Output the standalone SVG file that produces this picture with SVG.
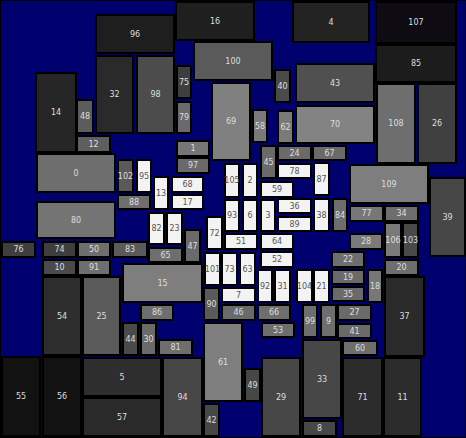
<svg xmlns="http://www.w3.org/2000/svg" width="466" height="438" viewBox="0 0 466 438">
<style>
rect{stroke:#000;stroke-width:2}
text{font-family:"DejaVu Sans","Liberation Sans",sans-serif;font-size:8px;fill:#dedede;text-anchor:middle;dominant-baseline:central}
.w rect{fill:#f3f3f3}
.w text{fill:#555}
</style>
<rect x="0" y="0" width="466" height="438" fill="#00006e" stroke="none"/>
<g id="n14"><rect x="36" y="73" width="40" height="79" fill="#262626"/><text x="56" y="112.5">14</text></g>
<g id="n48"><rect x="77" y="100" width="16" height="33" fill="#5c5c5c"/><text x="85" y="116.5">48</text></g>
<g id="n12"><rect x="77" y="136" width="33" height="16" fill="#5e5e5e"/><text x="93.5" y="144">12</text></g>
<g id="n32"><rect x="96" y="56" width="37" height="77" fill="#2a2a2a"/><text x="114.5" y="94.5">32</text></g>
<g id="n96"><rect x="96" y="15" width="78" height="38" fill="#1e1e1e"/><text x="135" y="34">96</text></g>
<g id="n98"><rect x="137" y="56" width="37" height="77" fill="#4c4c4c"/><text x="155.5" y="94.5">98</text></g>
<g id="n75"><rect x="177" y="66" width="14" height="32" fill="#3e3e3e"/><text x="184" y="82">75</text></g>
<g id="n79"><rect x="177" y="102" width="14" height="31" fill="#6a6a6a"/><text x="184" y="117.5">79</text></g>
<g id="n16"><rect x="176" y="2" width="78" height="38" fill="#1f1f1f"/><text x="215" y="21">16</text></g>
<g id="n100"><rect x="194" y="42" width="78" height="38" fill="#5a5a5a"/><text x="233" y="61">100</text></g>
<g id="n69"><rect x="212" y="83" width="38" height="77" fill="#808080"/><text x="231" y="121.5">69</text></g>
<g id="n1"><rect x="177" y="141" width="32" height="15" fill="#767676"/><text x="193" y="148.5">1</text></g>
<g id="n97"><rect x="177" y="158" width="32" height="15" fill="#6a6a6a"/><text x="193" y="165.5">97</text></g>
<g id="n40"><rect x="275" y="70" width="15" height="32" fill="#4a4a4a"/><text x="282.5" y="86">40</text></g>
<g id="n4"><rect x="293" y="2" width="76" height="40" fill="#232323"/><text x="331" y="22">4</text></g>
<g id="n107"><rect x="376" y="2" width="80" height="41" fill="#0e0c12"/><text x="416" y="22.5">107</text></g>
<g id="n85"><rect x="376" y="45" width="80" height="37" fill="#1c1c1c"/><text x="416" y="63.5">85</text></g>
<g id="n43"><rect x="296" y="64" width="78" height="38" fill="#505050"/><text x="335" y="83">43</text></g>
<g id="n70"><rect x="296" y="106" width="78" height="37" fill="#838383"/><text x="335" y="124.5">70</text></g>
<g id="n58"><rect x="253" y="110" width="14" height="32" fill="#7a7a7a"/><text x="260" y="126">58</text></g>
<g id="n62"><rect x="278" y="111" width="15" height="32" fill="#7a7a7a"/><text x="285.5" y="127">62</text></g>
<g id="n45"><rect x="261" y="146" width="15" height="32" fill="#6a6a6a"/><text x="268.5" y="162">45</text></g>
<g id="n24"><rect x="278" y="146" width="33" height="14" fill="#6a6a6a"/><text x="294.5" y="153">24</text></g>
<g id="n67"><rect x="313" y="146" width="33" height="14" fill="#6a6a6a"/><text x="329.5" y="153">67</text></g>
<g id="n108"><rect x="377" y="84" width="38" height="79" fill="#6e6e6e"/><text x="396" y="123.5">108</text></g>
<g id="n26"><rect x="418" y="84" width="38" height="79" fill="#404040"/><text x="437" y="123.5">26</text></g>
<g id="n109"><rect x="350" y="165" width="78" height="38" fill="#7e7e7e"/><text x="389" y="184">109</text></g>
<g id="n39"><rect x="430" y="178" width="35" height="78" fill="#474747"/><text x="447.5" y="217">39</text></g>
<g id="n77"><rect x="350" y="206" width="33" height="15" fill="#777777"/><text x="366.5" y="213.5">77</text></g>
<g id="n34"><rect x="385" y="206" width="33" height="15" fill="#6e6e6e"/><text x="401.5" y="213.5">34</text></g>
<g id="n106"><rect x="385" y="223" width="16" height="34" fill="#7a7a7a"/><text x="393" y="240">106</text></g>
<g id="n103"><rect x="403" y="223" width="15" height="34" fill="#494949"/><text x="410.5" y="240">103</text></g>
<g id="n28"><rect x="350" y="234" width="32" height="15" fill="#7a7a7a"/><text x="366" y="241.5">28</text></g>
<g id="n20"><rect x="385" y="260" width="33" height="15" fill="#6e6e6e"/><text x="401.5" y="267.5">20</text></g>
<g id="n22"><rect x="332" y="252" width="32" height="15" fill="#6e6e6e"/><text x="348" y="259.5">22</text></g>
<g id="n19"><rect x="332" y="270" width="32" height="14" fill="#6a6a6a"/><text x="348" y="277">19</text></g>
<g id="n18"><rect x="368" y="270" width="14" height="32" fill="#777777"/><text x="375" y="286">18</text></g>
<g id="n35"><rect x="332" y="287" width="32" height="14" fill="#6a6a6a"/><text x="348" y="294">35</text></g>
<g id="n37"><rect x="385" y="277" width="39" height="79" fill="#2a2a2a"/><text x="404.5" y="316.5">37</text></g>
<g id="n27"><rect x="338" y="305" width="33" height="15" fill="#6a6a6a"/><text x="354.5" y="312.5">27</text></g>
<g id="n41"><rect x="338" y="324" width="33" height="14" fill="#6a6a6a"/><text x="354.5" y="331">41</text></g>
<g id="n60"><rect x="343" y="341" width="34" height="14" fill="#6e6e6e"/><text x="360" y="348">60</text></g>
<g id="n71"><rect x="343" y="358" width="39" height="78" fill="#2c2c2c"/><text x="362.5" y="397">71</text></g>
<g id="n11"><rect x="384" y="358" width="37" height="78" fill="#2c2c2c"/><text x="402.5" y="397">11</text></g>
<g id="n33"><rect x="303" y="340" width="38" height="78" fill="#474747"/><text x="322" y="379">33</text></g>
<g id="n8"><rect x="303" y="421" width="33" height="15" fill="#474747"/><text x="319.5" y="428.5">8</text></g>
<g id="n99"><rect x="303" y="305" width="14" height="32" fill="#6e6e6e"/><text x="310" y="321">99</text></g>
<g id="n9"><rect x="321" y="305" width="15" height="32" fill="#6e6e6e"/><text x="328.5" y="321">9</text></g>
<g id="n29"><rect x="262" y="358" width="38" height="78" fill="#474747"/><text x="281" y="397">29</text></g>
<g id="n49"><rect x="245" y="369" width="15" height="32" fill="#474747"/><text x="252.5" y="385">49</text></g>
<g id="n53"><rect x="262" y="323" width="32" height="14" fill="#6e6e6e"/><text x="278" y="330">53</text></g>
<g id="n46"><rect x="222" y="305" width="33" height="15" fill="#6a6a6a"/><text x="238.5" y="312.5">46</text></g>
<g id="n66"><rect x="258" y="305" width="32" height="15" fill="#6e6e6e"/><text x="274" y="312.5">66</text></g>
<g id="n7" class="w"><rect x="222" y="288" width="33" height="14"/><text x="238.5" y="295">7</text></g>
<g id="n92" class="w"><rect x="258" y="270" width="14" height="32"/><text x="265" y="286">92</text></g>
<g id="n31" class="w"><rect x="275" y="270" width="15" height="32"/><text x="282.5" y="286">31</text></g>
<g id="n104" class="w"><rect x="297" y="270" width="15" height="32"/><text x="304.5" y="286">104</text></g>
<g id="n21" class="w"><rect x="314" y="270" width="15" height="32"/><text x="321.5" y="286">21</text></g>
<g id="n61"><rect x="204" y="323" width="38" height="78" fill="#7e7e7e"/><text x="223" y="362">61</text></g>
<g id="n42"><rect x="204" y="404" width="15" height="32" fill="#474747"/><text x="211.5" y="420">42</text></g>
<g id="n94"><rect x="163" y="358" width="39" height="78" fill="#474747"/><text x="182.5" y="397">94</text></g>
<g id="n5"><rect x="83" y="358" width="78" height="38" fill="#2e2e2e"/><text x="122" y="377">5</text></g>
<g id="n57"><rect x="83" y="398" width="78" height="38" fill="#2a2a2a"/><text x="122" y="417">57</text></g>
<g id="n81"><rect x="159" y="340" width="33" height="15" fill="#6e6e6e"/><text x="175.5" y="347.5">81</text></g>
<g id="n44"><rect x="123" y="323" width="15" height="32" fill="#4a4a4a"/><text x="130.5" y="339">44</text></g>
<g id="n30"><rect x="141" y="323" width="15" height="32" fill="#6a6a6a"/><text x="148.5" y="339">30</text></g>
<g id="n86"><rect x="141" y="305" width="32" height="15" fill="#6e6e6e"/><text x="157" y="312.5">86</text></g>
<g id="n15"><rect x="123" y="264" width="79" height="38" fill="#7e7e7e"/><text x="162.5" y="283">15</text></g>
<g id="n90"><rect x="204" y="288" width="15" height="32" fill="#5a5a5a"/><text x="211.5" y="304">90</text></g>
<g id="n25"><rect x="83" y="277" width="37" height="78" fill="#5a5a5a"/><text x="101.5" y="316">25</text></g>
<g id="n54"><rect x="43" y="277" width="38" height="78" fill="#2e2e2e"/><text x="62" y="316">54</text></g>
<g id="n55"><rect x="2" y="357" width="38" height="79" fill="#121212"/><text x="21" y="396.5">55</text></g>
<g id="n56"><rect x="43" y="357" width="38" height="79" fill="#121212"/><text x="62" y="396.5">56</text></g>
<g id="n10"><rect x="43" y="260" width="33" height="15" fill="#4a4a4a"/><text x="59.5" y="267.5">10</text></g>
<g id="n91"><rect x="78" y="260" width="32" height="15" fill="#6e6e6e"/><text x="94" y="267.5">91</text></g>
<g id="n74"><rect x="43" y="242" width="33" height="15" fill="#3e3e3e"/><text x="59.5" y="249.5">74</text></g>
<g id="n50"><rect x="78" y="242" width="32" height="15" fill="#6e6e6e"/><text x="94" y="249.5">50</text></g>
<g id="n76"><rect x="2" y="242" width="33" height="15" fill="#3e3e3e"/><text x="18.5" y="249.5">76</text></g>
<g id="n83"><rect x="113" y="242" width="34" height="15" fill="#5a5a5a"/><text x="130" y="249.5">83</text></g>
<g id="n0"><rect x="37" y="154" width="78" height="38" fill="#6e6e6e"/><text x="76" y="173">0</text></g>
<g id="n80"><rect x="37" y="202" width="78" height="36" fill="#747474"/><text x="76" y="220">80</text></g>
<g id="n102"><rect x="118" y="160" width="15" height="32" fill="#5a5a5a"/><text x="125.5" y="176">102</text></g>
<g id="n95" class="w"><rect x="137" y="160" width="14" height="32"/><text x="144" y="176">95</text></g>
<g id="n88"><rect x="118" y="195" width="32" height="14" fill="#6e6e6e"/><text x="134" y="202">88</text></g>
<g id="n13" class="w"><rect x="154" y="177" width="14" height="32"/><text x="161" y="193">13</text></g>
<g id="n68" class="w"><rect x="172" y="177" width="31" height="15"/><text x="187.5" y="184.5">68</text></g>
<g id="n17" class="w"><rect x="172" y="195" width="31" height="14"/><text x="187.5" y="202">17</text></g>
<g id="n82" class="w"><rect x="149" y="213" width="15" height="31"/><text x="156.5" y="228.5">82</text></g>
<g id="n23" class="w"><rect x="167" y="213" width="15" height="31"/><text x="174.5" y="228.5">23</text></g>
<g id="n65"><rect x="149" y="248" width="33" height="14" fill="#6e6e6e"/><text x="165.5" y="255">65</text></g>
<g id="n47"><rect x="185" y="230" width="15" height="32" fill="#6a6a6a"/><text x="192.5" y="246">47</text></g>
<g id="n72" class="w"><rect x="207" y="217" width="15" height="32"/><text x="214.5" y="233">72</text></g>
<g id="n101" class="w"><rect x="205" y="253" width="15" height="32"/><text x="212.5" y="269">101</text></g>
<g id="n73" class="w"><rect x="222" y="253" width="15" height="32"/><text x="229.5" y="269">73</text></g>
<g id="n63" class="w"><rect x="240" y="253" width="15" height="32"/><text x="247.5" y="269">63</text></g>
<g id="n105" class="w"><rect x="225" y="164" width="14" height="33"/><text x="232" y="180.5">105</text></g>
<g id="n2" class="w"><rect x="243" y="164" width="14" height="33"/><text x="250" y="180.5">2</text></g>
<g id="n59" class="w"><rect x="261" y="182" width="32" height="15"/><text x="277" y="189.5">59</text></g>
<g id="n78" class="w"><rect x="278" y="164" width="33" height="14"/><text x="294.5" y="171">78</text></g>
<g id="n87" class="w"><rect x="314" y="163" width="15" height="32"/><text x="321.5" y="179">87</text></g>
<g id="n93" class="w"><rect x="225" y="200" width="14" height="31"/><text x="232" y="215.5">93</text></g>
<g id="n6" class="w"><rect x="243" y="200" width="14" height="31"/><text x="250" y="215.5">6</text></g>
<g id="n3" class="w"><rect x="261" y="200" width="14" height="31"/><text x="268" y="215.5">3</text></g>
<g id="n36" class="w"><rect x="278" y="199" width="33" height="14"/><text x="294.5" y="206">36</text></g>
<g id="n89" class="w"><rect x="278" y="217" width="33" height="14"/><text x="294.5" y="224">89</text></g>
<g id="n38" class="w"><rect x="314" y="199" width="15" height="32"/><text x="321.5" y="215">38</text></g>
<g id="n84"><rect x="333" y="199" width="14" height="32" fill="#6e6e6e"/><text x="340" y="215">84</text></g>
<g id="n51" class="w"><rect x="225" y="234" width="32" height="15"/><text x="241" y="241.5">51</text></g>
<g id="n64" class="w"><rect x="261" y="234" width="32" height="15"/><text x="277" y="241.5">64</text></g>
<g id="n52" class="w"><rect x="261" y="252" width="32" height="15"/><text x="277" y="259.5">52</text></g>
</svg>
